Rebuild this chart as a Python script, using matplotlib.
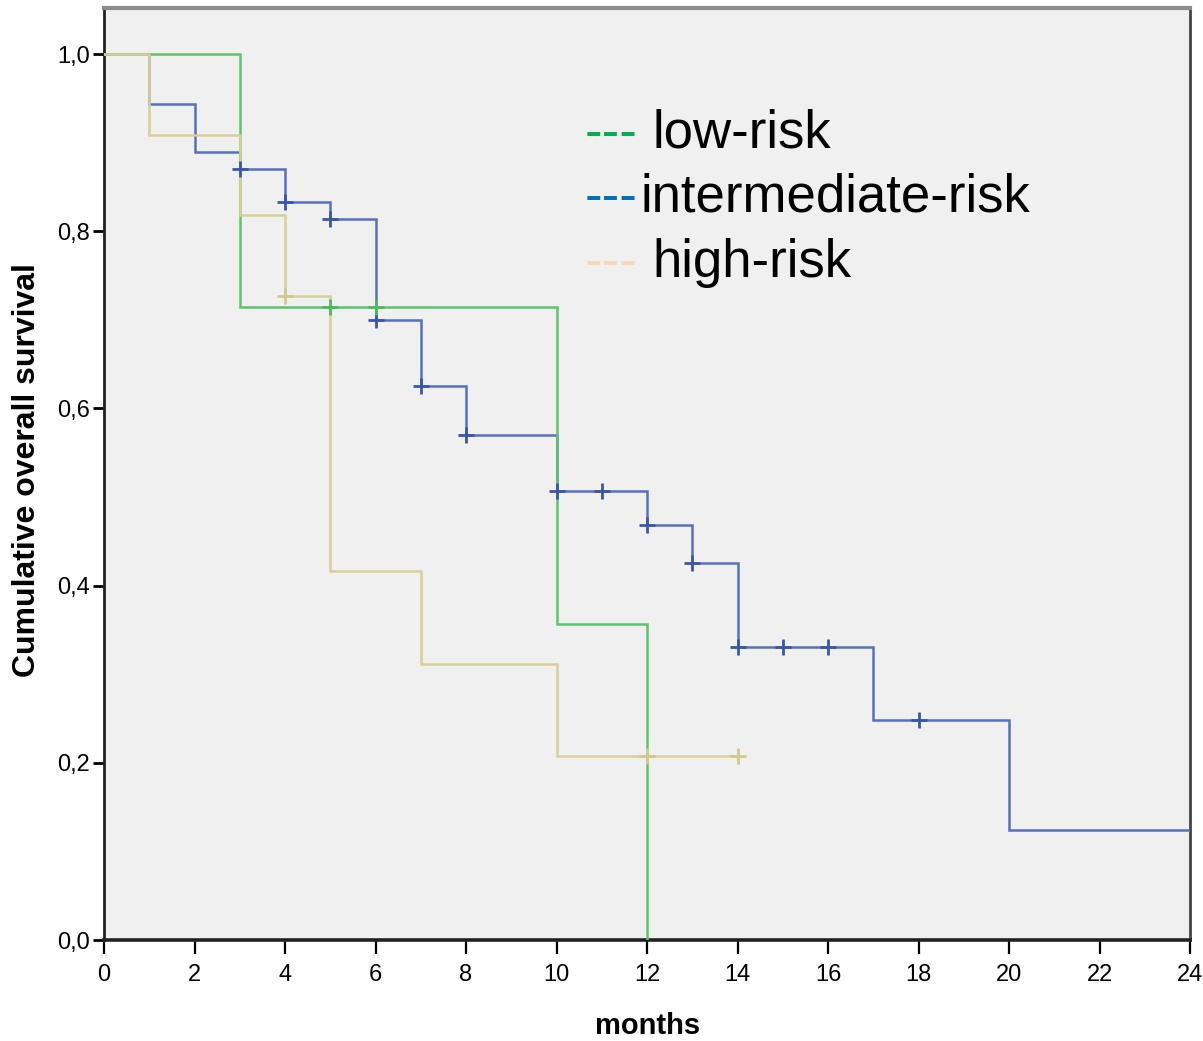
import numpy as np
import matplotlib
matplotlib.use('Agg')
import matplotlib.pyplot as plt
from matplotlib import font_manager
from matplotlib.ticker import FuncFormatter

# ---------------- data ----------------
low_t = [0, 3, 10, 12]
low_s = [1.0, 0.714, 0.357, 0.0]
low_cens = [5, 6]

int_t = [0, 1, 2, 3, 4, 5, 6, 7, 8, 10, 12, 13, 14, 17, 20, 24]
int_s = [1.0, 0.944, 0.889, 0.870, 0.833, 0.814, 0.700, 0.625, 0.570,
         0.507, 0.468, 0.425, 0.331, 0.248, 0.124, 0.124]
int_cens = [3, 4, 5, 6, 7, 8, 10, 11, 12, 13, 14, 15, 16, 18]

high_t = [0, 1, 3, 4, 5, 7, 10, 14]
high_s = [1.0, 0.909, 0.818, 0.727, 0.416, 0.312, 0.208, 0.208]
high_cens = [4, 12, 14]

legend_labels = ['low-risk', 'intermediate-risk', 'high-risk']
x_ticks = list(range(0, 25, 2))
y_ticks = [0.0, 0.2, 0.4, 0.6, 0.8, 1.0]

# ---------------- fonts ----------------
names = {f.name for f in font_manager.fontManager.ttflist}
NARROW = 'Liberation Sans Narrow' if 'Liberation Sans Narrow' in names else 'Liberation Sans'
SANS = 'Liberation Sans'

W, H = 1203, 1041
fig = plt.figure(figsize=(W / 100, H / 100), dpi=100)
fig.patch.set_facecolor('white')

def px(x, y):
    return x / W, 1 - y / H

left, right, top, bottom = 104, 1190, 8, 940
ax = fig.add_axes([left / W, 1 - bottom / H, (right - left) / W, (bottom - top) / H])
ax.set_facecolor('#f0f0f0')
ax.set_xlim(0, 24)
ax.set_ylim(0, 1.052)


def surv_at(times, surv, tt):
    times = np.asarray(times)
    surv = np.asarray(surv)
    idx = np.searchsorted(times, np.asarray(tt), side='right') - 1
    return surv[idx]


series = [
    (int_t, int_s, int_cens, '#5470c0', '#3a55b0', 3),
    (low_t, low_s, low_cens, '#5cc46c', '#4cbb5c', 4),
    (high_t, high_s, high_cens, '#d9cf98', '#d2c88c', 5),
]
for t, s, c, col, mcol, z in series:
    ax.step(t, s, where='post', color=col, lw=1.8, zorder=z, solid_joinstyle='miter')
    ax.plot(c, surv_at(t, s, c), linestyle='none', marker='+', ms=12, mew=2.0,
            color=mcol, zorder=z + 5)

# ticks
ax.set_xticks(x_ticks)
ax.set_yticks(y_ticks)
ax.yaxis.set_major_formatter(FuncFormatter(lambda v, p: f"{v:.1f}".replace('.', ',')))
ax.tick_params(axis='y', direction='out', length=8, width=2, pad=2, labelsize=17,
               colors='black')
ax.tick_params(axis='x', direction='out', length=10, width=1.6, pad=7, labelsize=17,
               colors='black')
for lab in ax.get_xticklabels() + ax.get_yticklabels():
    lab.set_fontfamily(NARROW)

# spines
ax.spines['left'].set_linewidth(2)
ax.spines['left'].set_color('#222222')
ax.spines['bottom'].set_linewidth(2.6)
ax.spines['bottom'].set_color('#222222')
ax.spines['top'].set_linewidth(3)
ax.spines['top'].set_color('#8c8c8c')
ax.spines['right'].set_linewidth(2)
ax.spines['right'].set_color('#444444')

# axis labels
fig.text(*px(27, 470), 'Cumulative overall survival', rotation=90, ha='center',
         va='center', fontsize=23, fontweight='bold', family=SANS)
fig.text(*px(648, 1026), 'months', ha='center', va='center', fontsize=21,
         fontweight='bold', family=NARROW)

# legend as text
leg_colors = ['#00b050', '#0070c0', '#fcd5b4']
baselines = [148, 212, 277]
text_x = [652, 640, 652]
for lab, col, bl, tx in zip(legend_labels, leg_colors, baselines, text_x):
    fig.text(*px(585, bl), '---', color=col, fontsize=38, family=SANS, va='baseline',
             ha='left')
    fig.text(*px(tx, bl), lab, color='black', fontsize=38, family=SANS, va='baseline',
             ha='left')

fig.savefig('out.png', dpi=100, facecolor='white')
